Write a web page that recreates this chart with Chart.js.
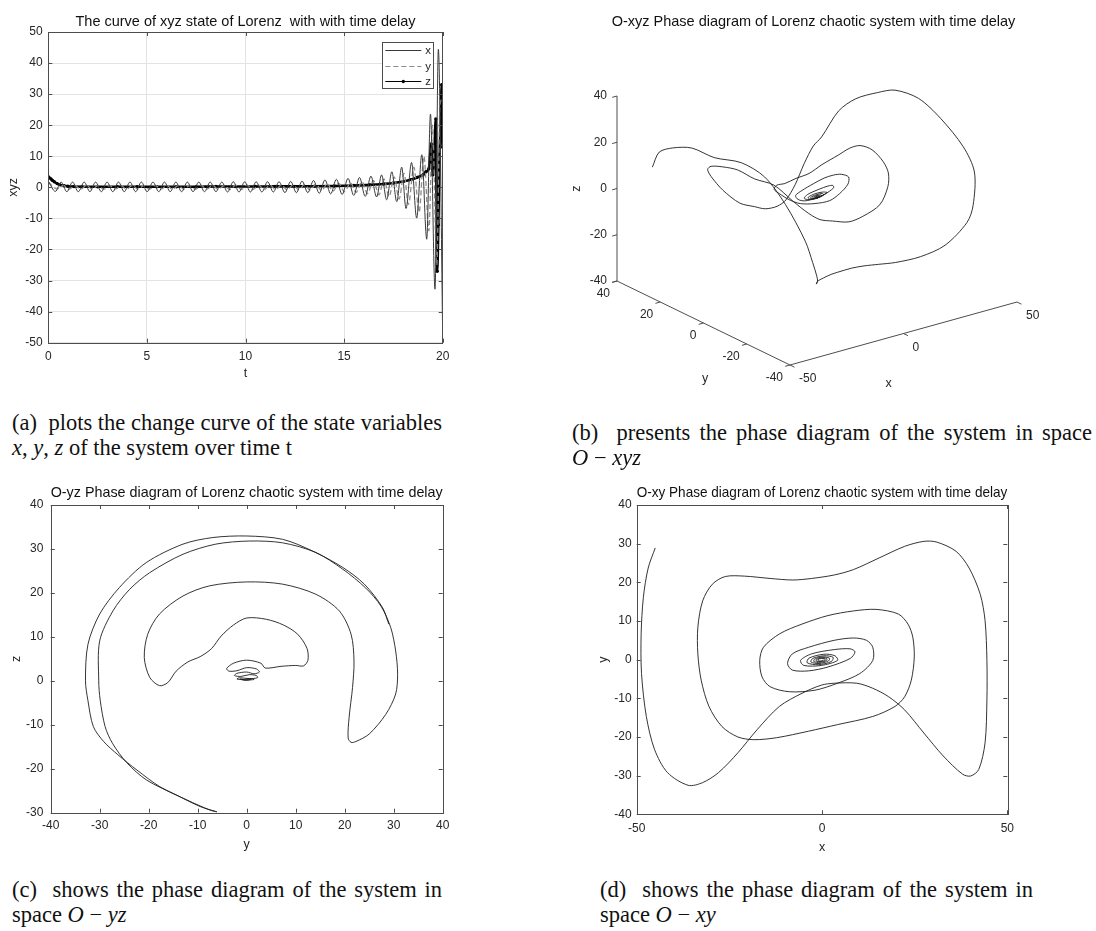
<!DOCTYPE html>
<html>
<head>
<meta charset="utf-8">
<script src="https://cdn.jsdelivr.net/npm/chart.js@4/dist/chart.umd.min.js"></script>
<style>
  html, body { margin:0; padding:0; background:#fff; }
  #page { position:relative; width:1096px; height:931px; overflow:hidden; background:#fff; }
  canvas { position:absolute; }
  .cap { position:absolute; font-family:"Liberation Serif","Times New Roman",serif; font-size:22.5px; line-height:25px; color:#111; white-space:nowrap; }
  .just { white-space:normal; text-align:justify; text-align-last:justify; }
</style>
</head>
<body>
<div id="page">
  <canvas id="ca" width="460" height="395" style="left:0;top:0"></canvas>
  <canvas id="cb" width="565" height="400" style="left:531px;top:0"></canvas>
  <canvas id="cc" width="460" height="400" style="left:0;top:460px"></canvas>
  <canvas id="cd" width="556" height="400" style="left:540px;top:460px"></canvas>

  <div class="cap just" style="left:12px;top:410px;width:430px">(a)&nbsp; plots the change curve of the state variables</div>
  <div class="cap" style="left:12px;top:435px"><i>x</i>, <i>y</i>, <i>z</i> of the system over time t</div>

  <div class="cap just" style="left:572px;top:420px;width:520px">(b)&nbsp; presents the phase diagram of the system in space</div>
  <div class="cap" style="left:572px;top:445px"><i>O</i> − <i>xyz</i></div>

  <div class="cap just" style="left:12px;top:877px;width:430px">(c)&nbsp; shows the phase diagram of the system in</div>
  <div class="cap" style="left:12px;top:902px">space <i>O</i> − <i>yz</i></div>

  <div class="cap just" style="left:600px;top:877px;width:433px">(d)&nbsp; shows the phase diagram of the system in</div>
  <div class="cap" style="left:600px;top:902px">space <i>O</i> − <i>xy</i></div>
</div>
<script>
// ---------------- Panel (a): time series ----------------
const titleA = 'The curve of xyz state of Lorenz  with with time delay';
const seriesNames = ['x', 'y', 'z'];
const tX = [0,0.36,0.65,0.94,1.23,1.52,1.82,2.11,2.40,2.69,2.98,3.27,3.56,3.85,4.14,4.43,4.72,5.01,5.31,5.60,5.89,6.18,6.47,6.76,7.05,7.34,7.63,7.92,8.21,8.50,8.80,9.09,9.38,9.67,9.96,10.25,10.54,10.83,11.12,11.41,11.70,12.00,12.29,12.58,12.87,13.16,13.45,13.74,14.03,14.32,14.61,14.90,15.20,15.49,15.78,16.07,16.36,16.65,16.90,17.16,17.42,17.67,17.92,18.14,18.42,18.68,18.94,19.19,19.38,19.61,19.78,20.0];
const xVals = [2.0,-1.3,1.7,-1.4,1.7,-1.4,1.7,-1.4,1.7,-1.4,1.7,-1.4,1.7,-1.4,1.7,-1.4,1.7,-1.4,1.7,-1.4,1.7,-1.4,1.7,-1.4,1.7,-1.4,1.7,-1.4,1.7,-1.4,1.7,-1.5,1.8,-1.5,1.8,-1.5,1.8,-1.5,1.8,-1.5,1.8,-1.7,1.9,-1.7,2.0,-1.7,2.2,-1.9,2.4,-2.1,2.6,-2.3,2.9,-2.6,3.2,-2.9,3.6,-3.1,4.0,-4.0,5.0,-4.6,6.5,-6.8,8.0,-9.9,10.5,-16.7,23.6,-32.8,44.4,-48.0];
const tY = [0,0.45,0.77,1.06,1.35,1.64,1.94,2.23,2.52,2.81,3.10,3.39,3.68,3.97,4.26,4.55,4.84,5.13,5.43,5.72,6.01,6.30,6.59,6.88,7.17,7.46,7.75,8.04,8.33,8.62,8.92,9.21,9.50,9.79,10.08,10.37,10.66,10.95,11.24,11.53,11.82,12.12,12.41,12.70,12.99,13.28,13.57,13.86,14.15,14.44,14.73,15.02,15.32,15.61,15.90,16.19,16.48,16.77,17.02,17.28,17.54,17.79,18.04,18.26,18.54,18.80,19.05,19.30,19.48,19.70,19.86,20.0];
const yVals = [1.6,-0.5,0.6,-0.6,0.6,-0.6,0.6,-0.6,0.6,-0.6,0.6,-0.6,0.6,-0.6,0.6,-0.6,0.6,-0.6,0.6,-0.6,0.6,-0.6,0.6,-0.6,0.6,-0.6,0.6,-0.6,0.6,-0.6,0.6,-0.7,0.7,-0.7,0.7,-0.7,0.7,-0.7,0.7,-0.7,0.7,-0.8,0.8,-0.8,0.9,-0.9,1.0,-1.0,1.1,-1.2,1.3,-1.4,1.5,-1.6,1.8,-2.0,2.2,-2.4,2.7,-3.0,3.4,-3.8,4.5,-5.5,6.5,-8.0,10.0,-14.0,20.0,-25.0,26.0,29.0];
const tZ = [0,0.1,0.2,0.3,0.45,0.6,0.8,1.0,1.3,1.7,2.5,3.5,4.5,5.5,6.5,7.5,8.5,9.5,10.5,11.5,12.5,13.5,14.5,15.5,16.3,17.0,17.5,18.0,18.4,18.7,19.0,19.15,19.3,19.42,19.5,19.58,19.65,19.72,19.78,19.84,19.9,19.95,20.0];
const zVals = [3.4,2.9,2.3,1.8,1.2,0.8,0.5,0.35,0.25,0.2,0.2,0.2,0.2,0.2,0.2,0.2,0.25,0.25,0.25,0.3,0.3,0.35,0.45,0.6,0.8,1.1,1.4,1.9,2.5,3.2,4.0,5.0,6.0,14.0,4.0,12.0,22.0,-27.0,-12.0,10.0,20.0,33.0,12.9];
const ticksA = { tMin:0, tMax:20, tStep:5, vMin:-50, vMax:50, vStep:10 };

// ---------------- Trajectory (x, y, z) used by panels (b) and (d) ----------------
const titleB = 'O-xyz Phase diagram of Lorenz chaotic system with time delay';
const titleD = 'O-xy Phase diagram of Lorenz chaotic system with time delay';
const dX = [-45.0,-46.9,-48.2,-48.8,-48.7,-47.4,-45.2,-41.7,-36.1,-32.2,-27.9,-22.7,-17.5,-11.5,-5.4,-0.2,3.3,9.4,13.7,18.0,22.3,27.5,32.7,37.9,40.1,42.3,44.0,44.5,44.5,44.0,42.7,39.7,36.2,31.0,27.5,22.3,15.4,8.5,3.3,-2.8,-7.9,-14.0,-20.9,-26.1,-29.6,-32.2,-33.5,-33.5,-32.6,-30.5,-27.0,-22.7,-18.4,-12.3,-3.6,4.2,13.7,19.7,22.3,24.1,24.9,24.5,23.2,20.6,14.6,8.5,1.6,-5.4,-11.4,-15.8,-16.8,-16.2,-14.0,-8.8,-1.9,4.2,10.2,13.7,13.7,12.0,8.5,3.3,-3.6,-8.0,-9.3,-8.0,-3.6,1.6,7.6,8.9,7.6,3.3,-2.8,-5.8,-4.9,-0.2,4.2,3.5,0.5,-3.5,-4.0,-1.0,2.5,3.0,0.5,-2.5,-3.0,-0.8,1.8,2.0,0.0,-2.0,-2.2,-0.5,1.2,1.3,-0.2,-1.5,-1.5,-0.3,0.8,0.7,-0.8,-1.0,0.0,0.3];
const dY = [28.9,23.7,16.1,6.7,-3.6,-14.7,-23.2,-29.2,-32.5,-31.8,-29.2,-24.1,-18.1,-12.1,-8.7,-6.6,-6.1,-6.1,-7.4,-9.6,-13.0,-19.0,-24.9,-29.6,-30.1,-28.4,-21.5,-10.4,-0.2,10.1,16.9,23.7,28.0,30.4,30.6,29.3,26.3,23.3,21.9,21.0,20.6,21.0,21.6,21.5,19.5,15.2,8.4,1.5,-5.3,-12.1,-17.3,-20.0,-20.7,-20.2,-18.5,-16.8,-14.7,-12.1,-9.6,-5.3,0.7,5.8,9.2,11.8,13.0,12.6,11.4,9.2,6.7,3.2,-0.2,-4.4,-7.0,-8.3,-7.9,-6.1,-3.6,-0.2,3.2,5.0,5.6,5.0,3.2,1.5,-1.0,-2.7,-2.9,-1.9,0.3,2.0,2.8,2.6,1.5,-0.2,-1.5,-1.5,-0.2,1.0,1.4,0.4,-0.8,-1.3,-0.5,0.6,1.0,0.3,-0.6,-1.0,-0.3,0.4,0.7,0.1,-0.5,-0.7,-0.2,0.3,0.5,0.0,-0.4,-0.5,-0.1,0.3,0.2,-0.3,-0.3,0.0];
const dZ = [12.9,22.3,27.9,32.3,32.8,35.3,32.4,22.2,6.3,-4.3,-12.5,-18.5,-23.8,-27.1,-28.7,-29.6,-29.8,-29.7,-29.3,-28.8,-27.6,-23.8,-17.6,-7,0,13,20.3,27.5,31.5,30.5,26.7,21.8,15.5,4.6,1.5,-4,-10,-13.3,-14,-13,-10.5,-7.5,-0.3,7,12,16,19.2,21,20,19.8,14.2,9,5.5,3,-0.5,-1,0.5,5.5,9.5,12,14.2,13.8,11.5,8,5,3,3.3,4,6,7,7,6,5,4.2,3.4,4,5.3,5.9,5.5,4.8,4.2,3.5,3.2,3,2.8,2.6,2.5,2.5,2.6,2.5,2.3,2.1,2,1.9,1.8,1.7,1.7,1.6,1.5,1.5,1.4,1.4,1.3,1.3,1.2,1.2,1.1,1.1,1.0,1.0,1.0,0.9,0.9,0.9,0.8,0.8,0.8,0.8,0.7,0.7,0.7,0.7,0.6,0.6,0.6,0.6];
const ticksD = { xMin:-50, xMax:50, xStep:50, yMin:-40, yMax:40, yStep:10 };

// 3-D box of panel (b)
const boxX = [-50, 50], boxY = [-40, 40], boxZ = [-40, 40];
const ticksBX = [-50, 0, 50], ticksBY = [-40, -20, 0, 20, 40], ticksBZ = [-40, -20, 0, 20, 40];

// ---------------- Panel (c): O-yz ----------------
const titleC = 'O-yz Phase diagram of Lorenz chaotic system with time delay';
const cY = [29.0,27.7,24.0,19.6,13.5,7.3,0,-6.9,-13.0,-20.5,-26.0,-30.0,-32.4,-32.9,-32.4,-31.3,-29.2,-26.3,-22.4,-17.7,-12.2,-7.5,-6.1,-9.5,-14.3,-20.4,-24.5,-27.4,-28.9,-29.9,-30.2,-30.0,-27.3,-23.9,-19.8,-13.0,-6.3,0.5,7.3,14.1,19.6,24.3,27.4,29.4,30.4,30.8,30.4,28.4,25.0,22.3,21.3,20.7,20.9,21.6,21.9,21.3,18.9,14.1,7.3,0,-7.6,-13.0,-17.8,-20.2,-20.9,-19.8,-17.8,-16.1,-14.4,-12.0,-9.5,-7.2,-5.2,-2.7,0,4.0,7.5,10.4,12.3,12.5,11.6,10.0,7.0,3.8,2.9,0,-2.7,-4.1,-3.6,-2.0,0,2.0,2.6,1.5,0,-2.0,-2.5,-1.2,0.5,2.0,2.2,0.5,-1.5,-2.0,-0.5,1.2,1.5,0,-1.3,-0.5,0.8,0];
const cZ = [12.9,16.7,22.0,25.8,29.5,32.2,32.95,32.6,31.1,26.9,21.2,15.2,8.3,0,-4.5,-10.4,-13.8,-16.8,-20.3,-24.1,-27.1,-29.4,-29.8,-28.6,-26.0,-22.6,-18.6,-14.2,-10.4,-4.4,0,9.1,15.9,20.8,24.6,28.8,31.1,31.8,31.4,29.2,25.4,21.1,17.0,12.1,6.8,1.5,-3.0,-7.6,-12.1,-13.8,-14.0,-13.0,-8.3,-1.5,4.5,10.6,15.9,19.7,22.0,22.5,21.6,19.3,15.2,10.6,5.3,0.8,-1.1,-0.4,2.2,4.3,5.5,7.3,10.2,12.7,14.3,14.0,12.7,10.6,7.4,4.7,3.4,3.5,3.3,2.9,4.0,4.7,4.0,2.8,2.2,2.3,3.0,2.7,2.0,1.6,2.0,1.7,1.2,1.0,1.4,1.2,0.7,0.5,0.7,0.4,0.3,0.5,0.3,0.2,0.4,0.1,0.3,0.5];
const ticksC = { yMin:-40, yMax:40, yStep:10, zMin:-30, zMax:40, zStep:10 };

// ---------------- helpers ----------------
Chart.defaults.font.family = '"Liberation Sans", Arial, Helvetica, sans-serif';
Chart.defaults.color = '#262626';
const AXIS_COLOR = '#4d4d4d';
const TICK_FONT = { size: 12 };
const LABEL_FONT = { size: 12.5 };
const TITLE_FONT = { size: 14.5, weight: 'normal' };

// view transform of the 3-D panel (azimuth/elevation projection, per-unit screen vectors)
const view = { ux: 2.27, uy: -2.1625, vx: 0.63, vy: 1.05, vz: 2.3125 };
function project(x, y, z) {
  return { x: view.ux * x + view.uy * y, y: view.vx * x + view.vy * y + view.vz * z };
}

const matlabBox = {
  id: 'matlabBox',
  afterDatasetsDraw(chart, args, o) {
    const { ctx, chartArea: a } = chart;
    const xs = chart.scales.x, ys = chart.scales.y;
    ctx.save();
    ctx.strokeStyle = o.color; ctx.lineWidth = 1;
    const L = o.tickLen;
    ctx.beginPath();
    xs.ticks.forEach(t => {
      const p = Math.round(xs.getPixelForValue(t.value)) + 0.5;
      ctx.moveTo(p, a.bottom); ctx.lineTo(p, a.bottom - L);
      ctx.moveTo(p, a.top); ctx.lineTo(p, a.top + L);
    });
    ys.ticks.forEach(t => {
      const p = Math.round(ys.getPixelForValue(t.value)) + 0.5;
      ctx.moveTo(a.left, p); ctx.lineTo(a.left + L, p);
      ctx.moveTo(a.right, p); ctx.lineTo(a.right - L, p);
    });
    ctx.stroke();
    ctx.strokeRect(Math.round(a.left) + 0.5, Math.round(a.top) + 0.5, Math.round(a.right - a.left), Math.round(a.bottom - a.top));
    ctx.restore();
  }
};

const boxLegend = {
  id: 'boxLegend',
  afterDatasetsDraw(chart, args, o) {
    const a = chart.chartArea, ctx = chart.ctx;
    const left = Math.round(a.right - o.right - o.width), top = Math.round(a.top + o.top);
    ctx.save();
    ctx.fillStyle = '#fff'; ctx.fillRect(left, top, o.width, o.height);
    ctx.strokeStyle = o.borderColor; ctx.lineWidth = 1;
    ctx.strokeRect(left + 0.5, top + 0.5, o.width, o.height);
    ctx.font = o.fontSize + 'px "Liberation Sans", Arial, sans-serif';
    ctx.textBaseline = 'middle'; ctx.textAlign = 'left';
    chart.data.datasets.forEach((ds, i) => {
      const y = Math.round(top + o.row0 + i * o.rowGap) + 0.5;
      const x0 = left + o.pad, x1 = x0 + o.lineLen;
      ctx.strokeStyle = ds.borderColor; ctx.lineWidth = 1;
      ctx.setLineDash(ds.borderDash || []);
      ctx.beginPath(); ctx.moveTo(x0, y); ctx.lineTo(x1, y); ctx.stroke();
      ctx.setLineDash([]);
      if (ds.pointRadius > 0) {
        ctx.fillStyle = ds.pointBackgroundColor;
        ctx.beginPath(); ctx.arc((x0 + x1) / 2, y, ds.pointRadius, 0, Math.PI * 2); ctx.fill();
      }
      ctx.fillStyle = o.color;
      ctx.fillText(ds.label, x1 + o.gap, y);
    });
    ctx.restore();
  }
};

const axes3d = {
  id: 'axes3d',
  afterDatasetsDraw(chart, args, o) {
    const ctx = chart.ctx, sx = chart.scales.x, sy = chart.scales.y;
    const P = (x, y, z) => { const q = project(x, y, z); return [sx.getPixelForValue(q.x), sy.getPixelForValue(q.y)]; };
    const dir = (p, q, len) => { const dx = q[0] - p[0], dy = q[1] - p[1], n = Math.hypot(dx, dy); return [dx / n * len, dy / n * len]; };
    const seg = (p, q) => { ctx.moveTo(p[0], p[1]); ctx.lineTo(q[0], q[1]); };
    const [x0, x1] = boxX, [y0, y1] = boxY, [z0, z1] = boxZ;
    ctx.save();
    ctx.strokeStyle = o.color; ctx.lineWidth = 1;
    ctx.beginPath();
    seg(P(x0, y1, z0), P(x0, y1, z1));
    seg(P(x0, y1, z0), P(x0, y0, z0));
    seg(P(x0, y0, z0), P(x1, y0, z0));
    const dNegX = dir(P(0, 0, 0), P(-1, 0, 0), o.tickLen);
    const dNegY = dir(P(0, 0, 0), P(0, -1, 0), o.tickLen);
    ticksBZ.forEach(v => { const p = P(x0, y1, v); seg(p, [p[0] + dNegX[0], p[1] + dNegX[1]]); });
    ticksBY.forEach(v => { const p = P(x0, v, z0); seg(p, [p[0] + dNegX[0], p[1] + dNegX[1]]); });
    ticksBX.forEach(v => { const p = P(v, y0, z0); seg(p, [p[0] + dNegY[0], p[1] + dNegY[1]]); });
    ctx.stroke();
    ctx.fillStyle = o.textColor;
    ctx.font = o.tickFont + 'px "Liberation Sans", Arial, sans-serif';
    ctx.textBaseline = 'middle';
    ctx.textAlign = 'right';
    ticksBZ.forEach(v => { const p = P(x0, y1, v); ctx.fillText(String(v), p[0] - 10, p[1]); });
    ticksBY.forEach(v => { const p = P(x0, v, z0); ctx.fillText(String(v), p[0] - 7, p[1] + 12.5); });
    ctx.textAlign = 'left';
    ticksBX.forEach(v => { const p = P(v, y0, z0); ctx.fillText(String(v), p[0] + 9, p[1] + 14); });
    ctx.font = o.labelFont + 'px "Liberation Sans", Arial, sans-serif';
    ctx.textAlign = 'center';
    const mx = P((x0 + x1) / 2, y0, z0); ctx.fillText('x', mx[0] - 15, mx[1] + 50);
    const my = P(x0, (y0 + y1) / 2, z0); ctx.fillText('y', my[0] + 1.5, my[1] + 56);
    const mz = P(x0, y1, (z0 + z1) / 2);
    ctx.save(); ctx.translate(mz[0] - 40, mz[1]); ctx.rotate(-Math.PI / 2); ctx.fillText('z', 0, 0); ctx.restore();
    ctx.restore();
  }
};

const pts = (xs, ys) => xs.map((v, i) => ({ x: v, y: ys[i] }));
const baseOpts = { responsive: false, animation: false, devicePixelRatio: 1, events: [] };

// ---------------- (a) ----------------
new Chart(document.getElementById('ca'), {
  type: 'line',
  data: { datasets: [
    { label: seriesNames[0], data: pts(tX, xVals), borderColor: '#3a3a3a', borderWidth: 1, pointRadius: 0, cubicInterpolationMode: 'monotone', fill: false },
    { label: seriesNames[1], data: pts(tY, yVals), borderColor: '#8c8c8c', borderWidth: 1.3, borderDash: [5, 3], pointRadius: 0, cubicInterpolationMode: 'monotone', fill: false },
    { label: seriesNames[2], data: pts(tZ, zVals), borderColor: '#000', borderWidth: 2.6, pointRadius: 1.7, pointBackgroundColor: '#000', pointBorderWidth: 0, cubicInterpolationMode: 'monotone', fill: false }
  ]},
  options: Object.assign({}, baseOpts, {
    layout: { padding: { left: 0, right: 17.3, top: 13, bottom: 14.2 } },
    plugins: {
      legend: { display: false }, tooltip: { enabled: false },
      title: { display: true, text: titleA, fullSize: false, font: TITLE_FONT, color: '#111', padding: { top: 0, bottom: 1.6 } },
      matlabBox: { color: AXIS_COLOR, tickLen: 4 },
      boxLegend: { right: 9.7, top: 9.7, width: 51, height: 46, row0: 8.3, rowGap: 15.5, pad: 3.3, lineLen: 36, gap: 4, fontSize: 11.5, color: '#262626', borderColor: AXIS_COLOR }
    },
    scales: {
      x: { type: 'linear', min: ticksA.tMin, max: ticksA.tMax,
           ticks: { stepSize: ticksA.tStep, padding: 6.8, font: TICK_FONT, autoSkip: false, maxRotation: 0 },
           grid: { color: '#e3e3e3', drawTicks: false }, border: { display: false },
           title: { display: true, text: 't', font: LABEL_FONT, padding: { top: 0, bottom: 0 } },
           afterFit: s => { s.height = 38.1; } },
      y: { type: 'linear', min: ticksA.vMin, max: ticksA.vMax,
           ticks: { stepSize: ticksA.vStep, padding: 5.6, font: TICK_FONT, autoSkip: false },
           grid: { color: '#e3e3e3', drawTicks: false }, border: { display: false },
           title: { display: true, text: 'xyz', font: LABEL_FONT, padding: { top: 5.8, bottom: 0 } },
           afterFit: s => { s.width = 48.3; } }
    }
  }),
  plugins: [matlabBox, boxLegend]
});

// ---------------- (b) ----------------
new Chart(document.getElementById('cb'), {
  type: 'scatter',
  data: { datasets: [
    { data: dX.map((x, i) => project(x, dY[i], dZ[i])), showLine: true, borderColor: '#1e1e1e', borderWidth: 0.9, pointRadius: 0, tension: 0.3 }
  ]},
  options: Object.assign({}, baseOpts, {
    layout: { padding: { left: 0, right: 0, top: 13, bottom: 0 } },
    plugins: {
      legend: { display: false }, tooltip: { enabled: false },
      title: { display: true, text: titleB, font: TITLE_FONT, color: '#111', padding: { top: 0, bottom: 10 } },
      axes3d: { color: AXIS_COLOR, textColor: '#262626', tickLen: 5, tickFont: 12, labelFont: 12.5 }
    },
    scales: {
      x: { type: 'linear', display: false, min: -286, max: 279 },
      y: { type: 'linear', display: false, min: -201, max: 158.6 }
    }
  }),
  plugins: [axes3d]
});

// ---------------- (c) ----------------
new Chart(document.getElementById('cc'), {
  type: 'scatter',
  data: { datasets: [
    { data: pts(cY, cZ), showLine: true, borderColor: '#1e1e1e', borderWidth: 0.9, pointRadius: 0, tension: 0.3 }
  ]},
  options: Object.assign({}, baseOpts, {
    layout: { padding: { left: 0, right: 17.3, top: 24.3, bottom: 7.5 } },
    plugins: {
      legend: { display: false }, tooltip: { enabled: false },
      title: { display: true, text: titleC, fullSize: false, font: TITLE_FONT, color: '#111', padding: { top: 0, bottom: 3.3 } },
      matlabBox: { color: AXIS_COLOR, tickLen: 4 }
    },
    scales: {
      x: { type: 'linear', min: ticksC.yMin, max: ticksC.yMax,
           ticks: { stepSize: ticksC.yStep, padding: 5.8, font: TICK_FONT, autoSkip: false, maxRotation: 0 },
           grid: { display: false, drawTicks: false }, border: { display: false },
           title: { display: true, text: 'y', font: LABEL_FONT, padding: { top: 0, bottom: 0 } },
           afterFit: s => { s.height = 39.8; } },
      y: { type: 'linear', min: ticksC.zMin, max: ticksC.zMax,
           ticks: { stepSize: ticksC.zStep, padding: 7.4, font: TICK_FONT, autoSkip: false },
           grid: { display: false, drawTicks: false }, border: { display: false },
           title: { display: true, text: 'z', font: LABEL_FONT, padding: { top: 9.2, bottom: 0 } },
           afterFit: s => { s.width = 50.7; } }
    }
  }),
  plugins: [matlabBox]
});

// ---------------- (d) ----------------
new Chart(document.getElementById('cd'), {
  type: 'scatter',
  data: { datasets: [
    { data: pts(dX, dY), showLine: true, borderColor: '#1e1e1e', borderWidth: 0.9, pointRadius: 0, tension: 0.3 }
  ]},
  options: Object.assign({}, baseOpts, {
    layout: { padding: { left: 50, right: 88.7, top: 24.3, bottom: 5.2 } },
    plugins: {
      legend: { display: false }, tooltip: { enabled: false },
      title: { display: true, text: titleD, fullSize: false, font: TITLE_FONT, color: '#111', padding: { top: 0, bottom: 3.3 } },
      matlabBox: { color: AXIS_COLOR, tickLen: 4 }
    },
    scales: {
      x: { type: 'linear', min: ticksD.xMin, max: ticksD.xMax,
           ticks: { stepSize: ticksD.xStep, padding: 7.5, font: TICK_FONT, autoSkip: false, maxRotation: 0 },
           grid: { display: false, drawTicks: false }, border: { display: false },
           title: { display: true, text: 'x', font: LABEL_FONT, padding: { top: 0, bottom: 0 } },
           afterFit: s => { s.height = 40.5; } },
      y: { type: 'linear', min: ticksD.yMin, max: ticksD.yMax,
           ticks: { stepSize: ticksD.yStep, padding: 5, font: TICK_FONT, autoSkip: false },
           grid: { display: false, drawTicks: false }, border: { display: false },
           title: { display: true, text: 'y', font: LABEL_FONT, padding: { top: 5.8, bottom: 0 } },
           afterFit: s => { s.width = 46.7; } }
    }
  }),
  plugins: [matlabBox]
});
</script>
</body>
</html>
